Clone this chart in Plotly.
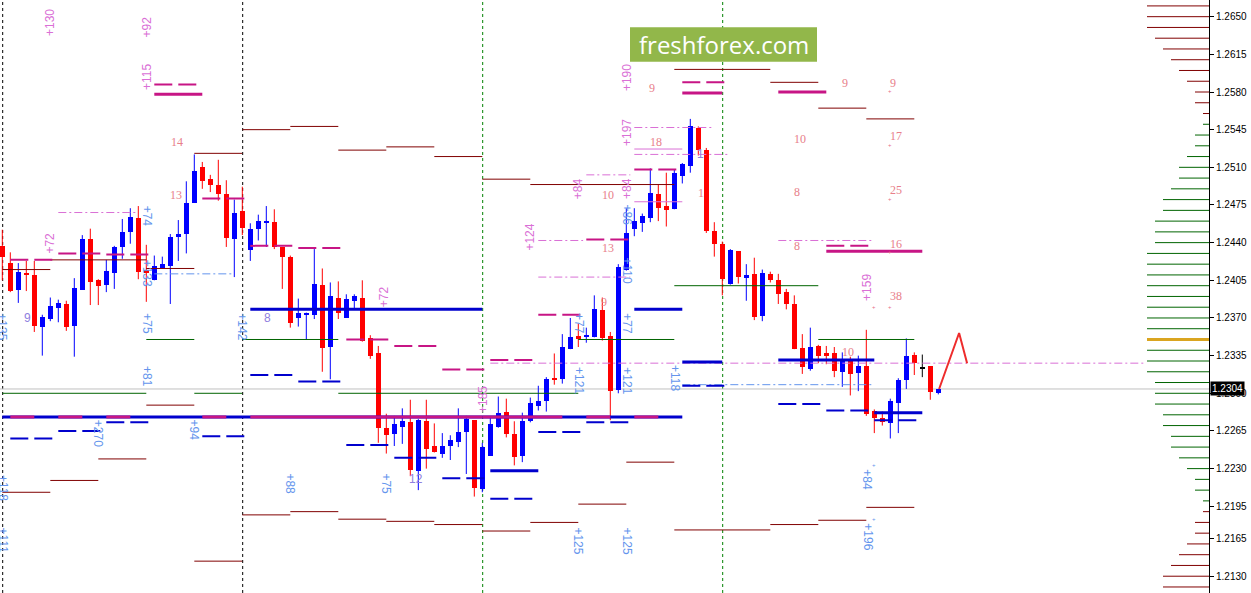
import plotly.graph_objects as go

# ---------------- candle data (price values) ----------------
opens = [1.2437, 1.2421, 1.2396, 1.2412, 1.2410, 1.2362, 1.2369, 1.2379, 1.2383, 1.2363,
         1.2396, 1.2443, 1.2405, 1.2401, 1.2412, 1.2436, 1.2450, 1.2463, 1.2415, 1.2405,
         1.2416, 1.2418, 1.2445, 1.2448, 1.2477, 1.2510, 1.2499, 1.2494, 1.2485, 1.2443,
         1.2469, 1.2433, 1.2453, 1.2458, 1.2459, 1.2436, 1.2427, 1.2370, 1.2373, 1.2373,
         1.2401, 1.2343, 1.2389, 1.2370, 1.2386, 1.2389, 1.2351, 1.2337, 1.2268, 1.2262,
         1.2269, 1.2273, 1.2228, 1.2274, 1.2251, 1.2244, 1.2251, 1.2255, 1.2264, 1.2275,
         1.2211, 1.2242, 1.2269, 1.2283, 1.2262, 1.2242, 1.2274, 1.2288, 1.2293, 1.2314,
         1.2313, 1.2341, 1.2353, 1.2352, 1.2352, 1.2377, 1.2353, 1.2303, 1.2415, 1.2453,
         1.2458, 1.2463, 1.2485, 1.2474, 1.2471, 1.2502, 1.2511, 1.2547, 1.2526, 1.2451,
         1.2439, 1.2402, 1.2432, 1.2407, 1.2411, 1.2372, 1.2411, 1.2405, 1.2394, 1.2383,
         1.2342, 1.2323, 1.2344, 1.2337, 1.2337, 1.2320, 1.2332, 1.2319, 1.2325, 1.2284,
         1.2277, 1.2272, 1.2291, 1.2312, 1.2336, 1.2324, 1.2325, 1.2300]
highs = [1.2452, 1.2431, 1.2421, 1.2423, 1.2423, 1.2373, 1.2389, 1.2387, 1.2386, 1.2407,
         1.2447, 1.2453, 1.2406, 1.2424, 1.2437, 1.2462, 1.2472, 1.2474, 1.2438, 1.2428,
         1.2427, 1.2448, 1.2461, 1.2497, 1.2522, 1.2515, 1.2503, 1.2517, 1.2498, 1.2480,
         1.2492, 1.2458, 1.2466, 1.2474, 1.2471, 1.2436, 1.2428, 1.2388, 1.2375, 1.2434,
         1.2416, 1.2403, 1.2404, 1.2392, 1.2392, 1.2405, 1.2354, 1.2344, 1.2281, 1.2279,
         1.2286, 1.2294, 1.2276, 1.2294, 1.2272, 1.2263, 1.2261, 1.2286, 1.2279, 1.2275,
         1.2254, 1.2278, 1.2297, 1.2295, 1.2274, 1.2282, 1.2296, 1.2307, 1.2315, 1.2337,
         1.2355, 1.2370, 1.2365, 1.2361, 1.2391, 1.2389, 1.2357, 1.2420, 1.2472, 1.2472,
         1.2467, 1.2509, 1.2494, 1.2505, 1.2508, 1.2514, 1.2555, 1.2548, 1.2528, 1.2459,
         1.2441, 1.2434, 1.2432, 1.2420, 1.2426, 1.2415, 1.2413, 1.2411, 1.2397, 1.2391,
         1.2355, 1.2361, 1.2345, 1.2344, 1.2343, 1.2338, 1.2334, 1.2335, 1.2359, 1.2285,
         1.2283, 1.2295, 1.2314, 1.2351, 1.2338, 1.2336, 1.2325, 1.2304]
lows = [1.2405, 1.2394, 1.2384, 1.2395, 1.2357, 1.2335, 1.2367, 1.2366, 1.2358, 1.2334,
        1.2396, 1.2382, 1.2382, 1.2394, 1.2397, 1.2425, 1.2439, 1.2406, 1.2385, 1.2405,
        1.2416, 1.2383, 1.2423, 1.2430, 1.2477, 1.2490, 1.2487, 1.2479, 1.2436, 1.2408,
        1.2447, 1.2423, 1.2442, 1.2436, 1.2434, 1.2397, 1.2361, 1.2362, 1.2350, 1.2369,
        1.2320, 1.2313, 1.2369, 1.2370, 1.2378, 1.2348, 1.2332, 1.2254, 1.2244, 1.2251,
        1.2253, 1.2223, 1.2210, 1.2230, 1.2245, 1.2240, 1.2238, 1.2250, 1.2225, 1.2204,
        1.2208, 1.2242, 1.2268, 1.2259, 1.2233, 1.2236, 1.2273, 1.2284, 1.2283, 1.2308,
        1.2309, 1.2341, 1.2343, 1.2347, 1.2352, 1.2349, 1.2275, 1.2300, 1.2414, 1.2446,
        1.2450, 1.2459, 1.2460, 1.2455, 1.2471, 1.2495, 1.2505, 1.2521, 1.2449, 1.2427,
        1.2391, 1.2401, 1.2402, 1.2386, 1.2368, 1.2367, 1.2403, 1.2383, 1.2378, 1.2341,
        1.2318, 1.2321, 1.2328, 1.2327, 1.2315, 1.2306, 1.2298, 1.2302, 1.2279, 1.2263,
        1.2270, 1.2258, 1.2263, 1.2304, 1.2317, 1.2315, 1.2294, 1.2299]
closes = [1.2427, 1.2395, 1.2413, 1.2410, 1.2363, 1.2371, 1.2381, 1.2384, 1.2362, 1.2398,
          1.2443, 1.2403, 1.2400, 1.2414, 1.2436, 1.2450, 1.2464, 1.2413, 1.2412, 1.2418,
          1.2420, 1.2445, 1.2448, 1.2477, 1.2507, 1.2497, 1.2494, 1.2485, 1.2444, 1.2468,
          1.2454, 1.2453, 1.2460, 1.2460, 1.2436, 1.2427, 1.2365, 1.2375, 1.2375, 1.2402,
          1.2342, 1.2390, 1.2375, 1.2388, 1.2390, 1.2349, 1.2335, 1.2268, 1.2261, 1.2271,
          1.2274, 1.2229, 1.2275, 1.2248, 1.2245, 1.2251, 1.2257, 1.2264, 1.2276, 1.2212,
          1.2250, 1.2271, 1.2282, 1.2262, 1.2241, 1.2274, 1.2291, 1.2293, 1.2313, 1.2313,
          1.2343, 1.2352, 1.2350, 1.2354, 1.2378, 1.2351, 1.2302, 1.2417, 1.2449, 1.2460,
          1.2465, 1.2486, 1.2472, 1.2470, 1.2505, 1.2513, 1.2548, 1.2526, 1.2451, 1.2439,
          1.2406, 1.2433, 1.2408, 1.2410, 1.2371, 1.2412, 1.2405, 1.2392, 1.2383, 1.2341,
          1.2324, 1.2343, 1.2335, 1.2335, 1.2321, 1.2332, 1.2318, 1.2325, 1.2281, 1.2277,
          1.2273, 1.2293, 1.2312, 1.2335, 1.2328, 1.2324, 1.2301, 1.2304]

projection_x = [117.1, 119.6, 120.6]
projection_y = [1.2304, 1.2356, 1.2328]

price_ticks = [1.2130, 1.2165, 1.2195, 1.2230, 1.2265, 1.2300, 1.2335, 1.2370, 1.2405,
               1.2440, 1.2475, 1.2510, 1.2545, 1.2580, 1.2615, 1.2650]

separators_black = [0.05, 30.05]
separators_green = [60.05, 90.05]

# horizontal level segments: (start candle, end candle, price)
maroon_segments = [
    (30, 36, 1.2545), (36, 42, 1.2548), (42, 48, 1.2526), (48, 54, 1.2529), (54, 60, 1.2520),
    (60, 66, 1.2499), (66, 84, 1.2494), (84, 96, 1.2601), (96, 102, 1.2589), (102, 108, 1.2565),
    (108, 114, 1.2555),
    (0, 6, 1.2415), (6, 18, 1.2424), (18, 24, 1.2416), (24, 30, 1.2523),
    (0, 6, 1.2208), (6, 12, 1.2219), (12, 18, 1.2239), (18, 24, 1.2289), (24, 30, 1.2144),
    (30, 36, 1.2187), (36, 42, 1.2190), (42, 48, 1.2183), (48, 54, 1.2181), (54, 60, 1.2178),
    (60, 66, 1.2172), (66, 72, 1.2180), (72, 78, 1.2197), (78, 84, 1.2236), (84, 96, 1.2173),
    (96, 102, 1.2178), (102, 108, 1.2182), (108, 114, 1.2194)]
green_segments = [
    (18, 24, 1.2350), (30, 42, 1.2350), (42, 72, 1.2300), (0, 18, 1.2300), (24, 30, 1.2300),
    (72, 84, 1.2350), (84, 102, 1.2400), (102, 114, 1.2350)]
blue_thick_segments = [
    (0, 85, 1.2278), (31, 60, 1.2378), (61, 67, 1.2228), (79, 85, 1.2378), (85, 90, 1.2329),
    (97, 109, 1.2331), (109, 115, 1.2282)]
magenta_thick_segments = [
    (19, 25, 1.2578), (31, 60, 1.2278), (1, 4, 1.2278), (7, 10, 1.2278), (13, 16, 1.2278),
    (25, 28, 1.2278), (60, 70, 1.2278), (73, 76, 1.2278), (79, 82, 1.2278), (85, 90, 1.2579),
    (97, 103, 1.2580), (103, 115, 1.2432)]
blue_dash_segments = [
    (1, 6.25, 1.2258), (7, 12.25, 1.2265), (13, 18.25, 1.2273), (25, 30.25, 1.2260),
    (31, 36.25, 1.2317), (37, 42.25, 1.2311), (43, 48.25, 1.2252), (49, 54.25, 1.2240),
    (55, 60.25, 1.2221), (61, 66.25, 1.2202), (67, 72.25, 1.2264), (73, 78.25, 1.2273),
    (85, 90.25, 1.2307), (97, 102.25, 1.2290), (103, 108.25, 1.2284), (109, 114.25, 1.2275)]
magenta_dash_segments = [
    (1, 6.25, 1.2424), (7, 12.25, 1.2430), (13, 18.25, 1.2429), (19, 24.25, 1.2587),
    (25, 30.25, 1.2481), (31, 36.25, 1.2437), (37, 42.25, 1.2435), (43, 48.25, 1.2350),
    (49, 54.25, 1.2344), (55, 60.25, 1.2322), (61, 66.25, 1.2331), (67, 72.25, 1.2373),
    (73, 78.25, 1.2443), (79, 84.25, 1.2508), (85, 90.25, 1.2589), (103, 108.25, 1.2437)]
orchid_dashdot_segments = [
    (7, 17, 1.2468), (79, 89, 1.2547), (79, 91, 1.2522), (73, 78.5, 1.2503), (67, 72.6, 1.2442),
    (67, 78.5, 1.2408), (61, 143, 1.2328), (97, 109, 1.2442)]
orchid_solid_segments = [(79, 85, 1.2527), (79, 85, 1.2478)]
skyblue_dashdot_segments = [(19, 29, 1.2411), (85, 109, 1.2308)]

# volume-profile style histogram on the right (price level, length in candle widths)
profile_upper_levels = [1.2660, 1.2650, 1.2640, 1.2630, 1.2620, 1.2610, 1.2600, 1.2590, 1.2580, 1.2570, 1.2560]
profile_upper_sizes = [8, 8, 8, 7, 6, 5, 4, 3, 2, 2, 1]
profile_mid_levels = [1.2550, 1.2540, 1.2530, 1.2520, 1.2510, 1.2500, 1.2490, 1.2480, 1.2470, 1.2460,
                      1.2450, 1.2440, 1.2430, 1.2420, 1.2410, 1.2400, 1.2390, 1.2380, 1.2370, 1.2360,
                      1.2340, 1.2330, 1.2320, 1.2310, 1.2300, 1.2290, 1.2280, 1.2270, 1.2260, 1.2250,
                      1.2240, 1.2230, 1.2220, 1.2210, 1.2200]
profile_mid_sizes = [1, 2, 2, 3, 4, 4, 5, 6, 6, 7, 7, 7, 8, 8, 8, 8, 8, 8, 8, 8,
                     8, 8, 8, 7, 7, 7, 6, 6, 5, 5, 4, 3, 2, 2, 1]
profile_lower_levels = [1.2190, 1.2180, 1.2170, 1.2160, 1.2150, 1.2140, 1.2130, 1.2120]
profile_lower_sizes = [1, 2, 2, 3, 4, 5, 6, 6]
profile_poc_level = 1.2350
profile_poc_size = 8

# text labels: (candle, price, text)
pink_vertical_labels = [
    (5.96, 1.2645, "+130"), (18.1, 1.2640, "+92"), (18.1, 1.2594, "+115"), (5.96, 1.2440, "+72"),
    (47.8, 1.2390, "+72"), (60.0, 1.2294, "+185"), (66.0, 1.2445, "+124"), (72.0, 1.2490, "+84"),
    (78.1, 1.2490, "+84"), (78.1, 1.2542, "+197"), (78.1, 1.2593, "+190"), (108.1, 1.2398, "+159")]
blue_vertical_labels = [
    (18.1, 1.2465, "+74"), (18.1, 1.2412, "+133"), (18.1, 1.2365, "+75"), (18.1, 1.2316, "+81"),
    (0.0, 1.2362, "+135"), (30.0, 1.2362, "+142"), (12.0, 1.2263, "+270"), (24.0, 1.2266, "+94"),
    (0.1, 1.2212, "+118"), (0.1, 1.2163, "+111"), (36.0, 1.2216, "+88"), (48.0, 1.2216, "+75"),
    (72.0, 1.2365, "+77"), (78.1, 1.2365, "+77"), (72.0, 1.2312, "+121"), (78.1, 1.2312, "+121"),
    (78.1, 1.2466, "+86"), (78.1, 1.2414, "+110"), (84.0, 1.2314, "+118"), (72.0, 1.2163, "+125"),
    (78.1, 1.2163, "+125"), (108.1, 1.2220, "+84"), (108.1, 1.2167, "+196")]
salmon_numbers = [
    (21.8, 1.2534, "14"), (21.7, 1.2484, "13"), (81.2, 1.2584, "9"), (81.7, 1.2534, "18"),
    (75.7, 1.2484, "10"), (75.7, 1.2435, "13"), (75.2, 1.2385, "9"), (87.3, 1.2486, "1"),
    (99.7, 1.2536, "10"), (99.3, 1.2487, "8"), (99.3, 1.2437, "8"), (105.3, 1.2588, "9"),
    (111.3, 1.2588, "9"), (111.7, 1.2539, "17"), (111.7, 1.2489, "25"), (111.7, 1.2439, "16"),
    (111.7, 1.2390, "38"), (105.7, 1.2338, "10")]
purple_numbers = [(3.1, 1.2370, "9"), (33.2, 1.2370, "8"), (51.7, 1.2220, "12"), (87.3, 1.2522, "1")]
pink_marks = [(111.0, 1.2581), (111.0, 1.2531), (111.0, 1.2481), (111.0, 1.2431),
              (111.0, 1.2380), (109.0, 1.2380)]
blue_marks = [(109.0, 1.2233), (109.0, 1.2183)]

# ---------------- figure ----------------
X_MIN, X_MAX = -0.2875, 150.8375
Y_MIN, Y_MAX = 1.21144, 1.26655

RED = "#FF0000"
BLUE = "#0000FF"
MAROON = "#800000"
DKGREEN = "#006400"
THICKBLUE = "#0000CD"
MAGENTA = "#C71585"
ORCHID = "#DA70D6"
SKY = "#6495ED"

fig = go.Figure()

n = len(opens)
groups = {"up": ([], BLUE), "down": ([], RED), "flat": ([], "#000000")}
for i in range(n):
    if closes[i] > opens[i]:
        groups["up"][0].append(i)
    elif closes[i] < opens[i]:
        groups["down"][0].append(i)
    else:
        groups["flat"][0].append(i)

MIN_BODY = 0.00011
for key, (ids, col) in groups.items():
    if not ids:
        continue
    wx, wy = [], []
    for i in ids:
        wx += [i, i, None]
        wy += [lows[i], highs[i], None]
    fig.add_trace(go.Scatter(x=wx, y=wy, mode="lines", line=dict(color=col, width=1),
                             hoverinfo="skip"))
    bases, heights = [], []
    for i in ids:
        lo = min(opens[i], closes[i])
        h = abs(closes[i] - opens[i])
        if h < MIN_BODY:
            lo = lo - (MIN_BODY - h) / 2
            h = MIN_BODY
        bases.append(lo)
        heights.append(h)
    fig.add_trace(go.Bar(x=ids, y=heights, base=bases, width=0.65, marker_color=col,
                         marker_line_width=0, hoverinfo="skip"))


def add_segments(segs, color, width, dash="solid"):
    xs, ys = [], []
    for x0, x1, p in segs:
        xs += [x0, x1, None]
        ys += [p, p, None]
    fig.add_trace(go.Scatter(x=xs, y=ys, mode="lines", hoverinfo="skip",
                             line=dict(color=color, width=width, dash=dash)))


add_segments(maroon_segments, MAROON, 1)
add_segments(green_segments, DKGREEN, 1)
add_segments(orchid_solid_segments, ORCHID, 1)
add_segments(orchid_dashdot_segments, ORCHID, 1, "8px,3px,2px,3px")
add_segments(skyblue_dashdot_segments, SKY, 1, "8px,3px,2px,3px")
add_segments(blue_dash_segments, THICKBLUE, 2, "18px,6px")
add_segments(magenta_dash_segments, MAGENTA, 2, "18px,6px")
add_segments(blue_thick_segments, THICKBLUE, 3)
add_segments(magenta_thick_segments, MAGENTA, 3)

# projection zigzag
fig.add_trace(go.Scatter(x=projection_x, y=projection_y, mode="lines",
                         line=dict(color="#EE2C2C", width=2), hoverinfo="skip"))


# right-side profile
def profile_segs(levels, sizes):
    return [(X_MAX - s + 0.25, X_MAX, p) for p, s in zip(levels, sizes)]


add_segments(profile_segs(profile_upper_levels, profile_upper_sizes), MAROON, 1)
add_segments(profile_segs(profile_lower_levels, profile_lower_sizes), MAROON, 1)
add_segments(profile_segs(profile_mid_levels, profile_mid_sizes), DKGREEN, 1)
add_segments(profile_segs([profile_poc_level], [profile_poc_size]), "#DAA520", 3)

shapes = []
# current price line
shapes.append(dict(type="line", xref="x", yref="y", x0=X_MIN, x1=X_MAX, y0=closes[-1], y1=closes[-1],
                   line=dict(color="#C0C0C0", width=1), layer="below"))
for xv in separators_black:
    shapes.append(dict(type="line", xref="x", yref="paper", x0=xv, x1=xv, y0=0, y1=1,
                       line=dict(color="#000000", width=1, dash="3px,3px"), layer="below"))
for xv in separators_green:
    shapes.append(dict(type="line", xref="x", yref="paper", x0=xv, x1=xv, y0=0, y1=1,
                       line=dict(color="#008000", width=1, dash="3px,3px"), layer="below"))
# logo box
shapes.append(dict(type="rect", xref="paper", yref="paper", x0=630 / 1209, x1=817 / 1209,
                   y0=1 - 61.7 / 593, y1=1 - 27.3 / 593, fillcolor="#92B74A", line=dict(width=0),
                   layer="above"))

annotations = []
for x, y, t in pink_vertical_labels:
    annotations.append(dict(x=x, y=y, text=t, showarrow=False, textangle=-90,
                            font=dict(family="Liberation Sans", size=12, color=ORCHID)))
for x, y, t in blue_vertical_labels:
    annotations.append(dict(x=x, y=y, text=t, showarrow=False, textangle=90,
                            font=dict(family="Liberation Sans", size=12, color=SKY)))
for x, y, t in salmon_numbers:
    annotations.append(dict(x=x, y=y, text=t, showarrow=False,
                            font=dict(family="Liberation Serif", size=12, color="#E8808A")))
for x, y, t in purple_numbers:
    annotations.append(dict(x=x, y=y, text=t, showarrow=False,
                            font=dict(family="Liberation Sans", size=12, color="#9080E0")))
for x, y in pink_marks:
    annotations.append(dict(x=x, y=y, text="+", showarrow=False,
                            font=dict(family="Liberation Sans", size=6, color="#E8708A")))
for x, y in blue_marks:
    annotations.append(dict(x=x, y=y, text="+", showarrow=False,
                            font=dict(family="Liberation Sans", size=6, color=SKY)))
# logo text
annotations.append(dict(xref="paper", yref="paper", x=(630 + 817) / 2 / 1209, y=1 - 44.5 / 593,
                        xanchor="center", yanchor="middle",
                        text="freshforex.com", showarrow=False,
                        font=dict(family="Open Sans", size=24, color="white")))
# current price tag
annotations.append(dict(xref="paper", yref="y", x=1, y=closes[-1], text=f"{closes[-1]:.4f}",
                        showarrow=False, xanchor="left", yanchor="middle", xshift=1,
                        bgcolor="black", borderpad=1,
                        font=dict(family="Liberation Sans", size=10, color="white")))

fig.update_layout(
    width=1251, height=593,
    margin=dict(l=0, r=42, t=0, b=0),
    plot_bgcolor="white", paper_bgcolor="white",
    showlegend=False, barmode="overlay", bargap=0,
    shapes=shapes, annotations=annotations,
    xaxis=dict(range=[X_MIN, X_MAX], showgrid=False, zeroline=False, showticklabels=False,
               ticks="", showline=False, fixedrange=True),
    yaxis=dict(range=[Y_MIN, Y_MAX], side="right", showgrid=False, zeroline=False,
               showline=True, linecolor="black", linewidth=1, ticks="outside", ticklen=4,
               tickcolor="black", tickvals=price_ticks, ticktext=[f"{v:.4f}" for v in price_ticks],
               tickfont=dict(family="Liberation Sans", size=10, color="black")),
)

fig.write_html("out.html", config={"displayModeBar": False},
               post_script="document.body.style.margin='0';document.body.style.padding='0';"
                           "document.documentElement.style.overflow='hidden';")
